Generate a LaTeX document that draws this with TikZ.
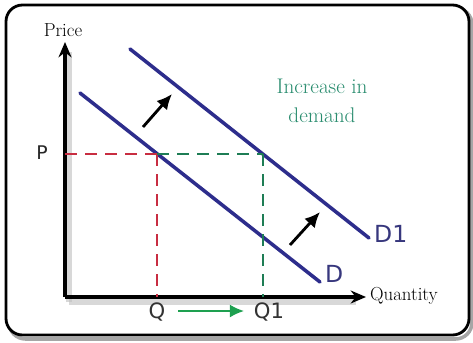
\documentclass[tikz,border=0pt]{standalone}
\usepackage{fontspec}
\newfontfamily\labelfont{DejaVu Sans}
\usepackage{xcolor}
\usetikzlibrary{arrows.meta}
\definecolor{curveblue}{RGB}{45,45,140}
\definecolor{pricered}{RGB}{200,45,65}
\definecolor{qgreen}{RGB}{30,125,85}
\definecolor{arrowgreen}{RGB}{30,160,80}
\definecolor{notegreen}{RGB}{40,140,110}
\definecolor{labelblue}{RGB}{55,55,125}
\tikzset{
  axis/.style={line width=3.4pt, -{Stealth[length=13pt,width=11pt]}},
  axisshade/.style={line width=5pt, black!25, opacity=0.6},
  demand/.style={line width=3pt, curveblue, line cap=round},
  redguide/.style={line width=1.7pt, pricered, dash pattern=on 10pt off 7pt},
  greenguide/.style={line width=1.7pt, qgreen, dash pattern=on 10pt off 7pt},
  shiftarrow/.style={line width=2.4pt, -{Latex[length=13pt,width=12pt]}},
  seriflabel/.style={font=\fontsize{16}{18}\selectfont},
  sanslabel/.style={font=\labelfont\fontsize{18}{20}\selectfont}
}
\begin{document}
\begin{tikzpicture}[x=0.85pt,y=-0.85pt]
  \useasboundingbox (0,0) rectangle (473,342);
  % frame
  \draw[black!35, line width=3pt, rounded corners=14pt] (9,8) rectangle (472,339);
  \draw[line width=2.4pt, rounded corners=14pt, fill=white] (6,5) rectangle (469,335);
  % axes
  \coordinate (O) at (65,297);
  \coordinate (ytop) at (65,42);
  \coordinate (xend) at (366,297);
  \draw[axisshade] (69,302) -- (69,52);
  \draw[axisshade] (69,302) -- (356,302);
  \draw[axis] (O) -- (ytop);
  \draw[axis] (O) -- (xend);
  \node[seriflabel] (price) at (63,30) {Price};
  \node[seriflabel, anchor=west] (quantity) at (366,296) {Quantity};
  % demand curves
  \coordinate (Dstart) at (80,93);
  \coordinate (Dend) at (320,282);
  \coordinate (Donestart) at (130,49);
  \coordinate (Doneend) at (369,238);
  \draw[demand] (Dstart) -- (Dend);
  \draw[demand] (Donestart) -- (Doneend);
  \node[sanslabel, labelblue, anchor=west, font=\labelfont\fontsize{20}{22}\selectfont] (dlab) at (321,274) {D};
  \node[sanslabel, labelblue, anchor=west, font=\labelfont\fontsize{20}{22}\selectfont] (donelab) at (370,234) {D1};
  % equilibrium guides
  \coordinate (Pax) at (65,154);
  \coordinate (E) at (157,154);
  \coordinate (Eone) at (263,154);
  \coordinate (Qax) at (157,297);
  \coordinate (Qoneax) at (263,297);
  \draw[redguide] (Pax) -- (E);
  \draw[redguide] (E) -- (Qax);
  \draw[greenguide] (E) -- (Eone);
  \draw[greenguide] (Eone) -- (Qoneax);
  \node[sanslabel, black!85, font=\labelfont\fontsize{16}{18}\selectfont] (plab) at (42,153) {P};
  \node[sanslabel, black!80] (qlab) at (157,312) {Q};
  \node[sanslabel, black!80] (qonelab) at (269,312) {Q1};
  \coordinate (qarrowstart) at (178,311);
  \coordinate (qarrowend) at (244,311);
  \draw[arrowgreen, line width=1.5pt, -{Latex[length=12pt,width=11pt]}] (qarrowstart) -- (qarrowend);
  % shift arrows
  \coordinate (upfrom) at (143,127);
  \coordinate (upto) at (172,94);
  \coordinate (lowfrom) at (290,245);
  \coordinate (lowto) at (320,212);
  \draw[shiftarrow] (upfrom) -- (upto);
  \draw[shiftarrow] (lowfrom) -- (lowto);
  \node[seriflabel, notegreen, align=center, font=\fontsize{18}{25}\selectfont] (note) at (322,101) {Increase in\\demand};
\end{tikzpicture}
\end{document}
